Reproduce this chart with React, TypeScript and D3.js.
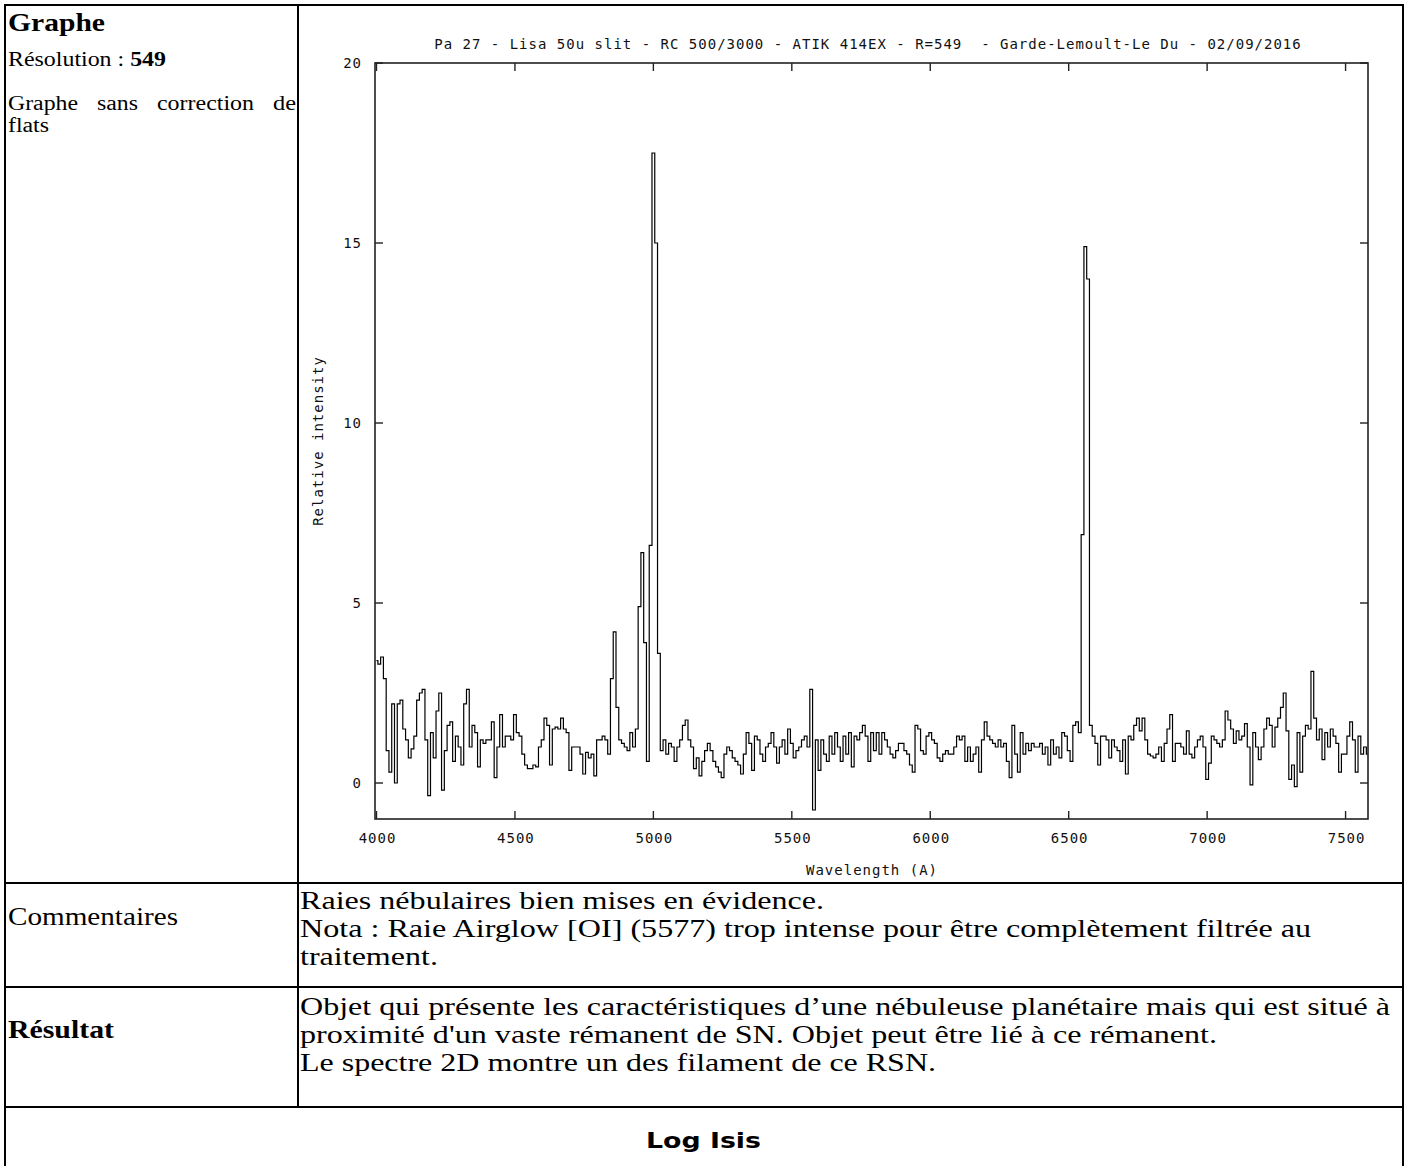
import React from 'react';
import * as d3 from 'd3';

// spectrum sampled every 10 A, 4000 -> 7580
const wavelengths: number[] = d3.range(4000, 7590, 10);
const intensity: number[] = [
  3.4, 3.3, 3.5, 2.9, 0.9, 0.3, 2.2, 0.0, 2.2, 2.3,
  1.5, 1.2, 0.7, 0.95, 1.3, 2.3, 2.5, 2.6, 1.2, -0.35,
  1.4, 0.7, 2.0, 2.5, -0.2, 0.9, 1.6, 1.7, 0.6, 1.3,
  1.0, 0.5, 2.2, 2.6, 1.0, 1.6, 1.4, 0.45, 1.2, 1.1,
  1.2, 1.2, 1.7, 0.15, 1.0, 1.9, 1.0, 1.3, 1.3, 1.2,
  1.9, 1.4, 1.3, 0.8, 0.5, 0.4, 0.4, 0.5, 0.45, 1.0,
  1.2, 1.8, 1.6, 0.5, 1.5, 1.55, 1.5, 1.8, 1.5, 1.4,
  0.35, 1.0, 1.0, 1.0, 0.8, 0.25, 0.85, 0.7, 0.8, 0.2,
  1.2, 1.2, 1.3, 1.2, 0.8, 2.9, 4.2, 2.1, 1.2, 1.1,
  1.0, 0.9, 1.4, 1.0, 1.5, 4.9, 6.4, 3.9, 0.6, 6.6,
  17.5, 15.0, 3.6, 0.9, 1.2, 0.8, 1.1, 1.0, 0.6, 1.0,
  1.2, 1.6, 1.75, 1.2, 1.0, 0.4, 0.7, 0.2, 0.6, 0.9,
  1.1, 0.9, 0.6, 0.45, 0.3, 0.15, 0.8, 1.0, 0.9, 0.7,
  0.6, 0.5, 0.25, 0.8, 1.4, 1.1, 0.35, 1.3, 1.2, 0.8,
  0.6, 1.0, 1.1, 1.4, 1.0, 0.55, 1.0, 1.2, 0.8, 1.5,
  1.1, 0.7, 0.9, 1.0, 1.2, 1.3, 1.0, 2.6, -0.75, 1.2,
  0.35, 1.2, 0.8, 0.6, 1.3, 0.8, 1.4, 1.0, 0.6, 1.3,
  0.8, 1.4, 0.45, 1.3, 1.2, 1.4, 1.6, 1.3, 0.6, 1.4,
  0.9, 1.4, 0.8, 1.4, 1.2, 1.0, 0.8, 0.7, 0.9, 1.1,
  1.1, 0.9, 0.8, 0.5, 0.3, 1.6, 1.5, 0.9, 0.8, 1.3,
  1.4, 1.2, 1.1, 0.7, 0.6, 0.8, 0.9, 0.8, 0.8, 1.0,
  1.3, 1.2, 1.3, 0.6, 1.0, 0.6, 0.8, 1.0, 0.3, 1.2,
  1.7, 1.3, 1.2, 1.1, 1.0, 1.2, 1.0, 1.1, 0.6, 0.15,
  1.6, 0.8, 0.3, 1.4, 0.8, 1.1, 0.9, 1.1, 1.0, 1.0,
  1.1, 0.8, 1.0, 0.5, 1.2, 0.8, 1.0, 0.7, 1.4, 1.3,
  0.9, 0.6, 1.6, 1.7, 1.4, 6.9, 14.9, 14.0, 1.6, 1.3,
  1.1, 0.5, 1.3, 1.3, 1.2, 0.7, 1.2, 1.0, 0.9, 0.6,
  1.2, 0.25, 1.3, 1.2, 1.6, 1.8, 1.45, 1.8, 1.2, 0.8,
  0.75, 0.7, 0.8, 1.0, 0.6, 1.1, 1.5, 1.9, 0.6, 1.1,
  1.1, 1.0, 0.8, 1.45, 0.8, 0.7, 1.0, 1.2, 1.3, 1.0,
  0.1, 0.55, 1.3, 1.2, 1.1, 1.0, 1.2, 2.0, 1.75, 1.5,
  1.1, 1.45, 1.2, 1.3, 1.65, 1.0, -0.05, 1.4, 1.0, 0.65,
  1.0, 1.5, 1.8, 1.6, 1.0, 1.55, 1.8, 2.1, 2.5, 1.45,
  0.1, 0.5, -0.1, 1.4, 0.3, 1.3, 1.6, 1.5, 3.1, 1.8,
  1.2, 1.5, 0.65, 1.4, 1.0, 1.5, 1.3, 1.1, 0.3, 0.8,
  0.8, 1.3, 1.7, 1.2, 0.3, 1.3, 0.8, 1.0, 0.8,
];

const xTickValues = [4000, 4500, 5000, 5500, 6000, 6500, 7000, 7500];
const yTickValues = [0, 5, 10, 15, 20];
const chartTitle = 'Pa 27 - Lisa 50u slit - RC 500/3000 - ATIK 414EX - R=549  - Garde-Lemoult-Le Du - 02/09/2016';
const xLabel = 'Wavelength (A)';
const yLabel = 'Relative intensity';

const commentLines = [
  'Raies nébulaires bien mises en évidence.',
  'Nota : Raie Airglow [OI] (5577) trop intense pour être complètement filtrée au',
  'traitement.',
];
const resultLines = [
  'Objet qui présente les caractéristiques d\u2019une nébuleuse planétaire mais qui est situé à',
  'proximité d\'un vaste rémanent de SN. Objet peut être lié à ce rémanent.',
  'Le spectre 2D montre un des filament de ce RSN.',
];

const SERIF = '"Liberation Serif", "Times New Roman", serif';
const MONO = '"DejaVu Sans Mono", monospace';

// plot frame
const frame = { left: 375, right: 1368, top: 63, bottom: 819 };

const x = d3.scaleLinear().domain([3994.6, 7581]).range([frame.left, frame.right]);
const y = d3.scaleLinear().domain([-1, 20]).range([frame.bottom, frame.top]);

const spectrumPath = d3.line<number>()
  .x((_, i) => x(wavelengths[i]))
  .y(d => y(d))
  .curve(d3.curveStep)(intensity) as string;

const monoText = { fontFamily: MONO, fontSize: 14, letterSpacing: 1, fill: '#111' } as const;

const Spectrum = () => {
  const tick = 8;
  return (
    <g>
      <text x={868} y={49} textAnchor="middle" style={{ ...monoText, whiteSpace: 'pre' }}>{chartTitle}</text>
      <path d={spectrumPath} fill="none" stroke="#000" strokeWidth={1.2} />
      <rect x={frame.left} y={frame.top} width={frame.right - frame.left} height={frame.bottom - frame.top}
        fill="none" stroke="#222" strokeWidth={1.6} />
      {xTickValues.map(v => (
        <g key={v}>
          <line x1={x(v)} x2={x(v)} y1={frame.bottom} y2={frame.bottom - tick} stroke="#222" strokeWidth={1.4} />
          <line x1={x(v)} x2={x(v)} y1={frame.top} y2={frame.top + tick} stroke="#222" strokeWidth={1.4} />
          <text x={x(v) + 1} y={843} textAnchor="middle" style={monoText}>{v}</text>
        </g>
      ))}
      {yTickValues.map(v => (
        <g key={v}>
          <line x1={frame.left} x2={frame.left + tick} y1={y(v)} y2={y(v)} stroke="#222" strokeWidth={1.4} />
          <line x1={frame.right} x2={frame.right - tick} y1={y(v)} y2={y(v)} stroke="#222" strokeWidth={1.4} />
          <text x={362} y={y(v) + 5} textAnchor="end" style={monoText}>{v}</text>
        </g>
      ))}
      <text x={872} y={875} textAnchor="middle" style={monoText}>{xLabel}</text>
      <text transform="translate(323,441) rotate(-90)" textAnchor="middle" style={monoText}>{yLabel}</text>
    </g>
  );
};

// serif text: width fixed to what the page shows (the page is wider than tall)
const Line = ({ x0, y0, w, size, bold, children }: any) => (
  <text x={x0} y={y0} fontFamily={SERIF} fontSize={size} fontWeight={bold ? 'bold' : 'normal'}
    textLength={w} lengthAdjust="spacingAndGlyphs" fill="#000">{children}</text>
);

export default function App() {
  const lineW = 2;
  const rows = [883, 987, 1107];
  const big = 26;
  const small = 20;
  return (
    <div style={{ position: 'absolute', left: 0, top: 0 }}>
      <svg width={1408} height={1166} style={{ display: 'block', background: '#fff' }}>
        {/* table grid */}
        <line x1={5} x2={5} y1={4} y2={1166} stroke="#000" strokeWidth={lineW} />
        <line x1={1403} x2={1403} y1={4} y2={1166} stroke="#000" strokeWidth={lineW} />
        <line x1={4} x2={1404} y1={5} y2={5} stroke="#000" strokeWidth={lineW} />
        <line x1={298} x2={298} y1={5} y2={rows[2]} stroke="#000" strokeWidth={lineW} />
        {rows.map(r => <line key={r} x1={4} x2={1404} y1={r} y2={r} stroke="#000" strokeWidth={lineW} />)}

        {/* left column, first row */}
        <Line x0={8} y0={31} w={97} size={25} bold>Graphe</Line>
        <text x={8} y={66} fontFamily={SERIF} fontSize={small} textLength={158} lengthAdjust="spacingAndGlyphs">
          Résolution : <tspan fontWeight="bold">549</tspan>
        </text>
        <Line x0={8} y0={110} w={70} size={small}>Graphe</Line>
        <Line x0={97} y0={110} w={41} size={small}>sans</Line>
        <Line x0={157} y0={110} w={97} size={small}>correction</Line>
        <Line x0={273} y0={110} w={23} size={small}>de</Line>
        <Line x0={8} y0={132} w={41} size={small}>flats</Line>

        <Spectrum />

        {/* comments row */}
        <Line x0={8} y0={925} w={170} size={big}>Commentaires</Line>
        <Line x0={300} y0={909} w={524} size={big}>{commentLines[0]}</Line>
        <Line x0={300} y0={937} w={1011} size={big}>{commentLines[1]}</Line>
        <Line x0={300} y0={965} w={138} size={big}>{commentLines[2]}</Line>

        {/* result row */}
        <Line x0={8} y0={1038} w={106} size={big} bold>Résultat</Line>
        <Line x0={300} y0={1015} w={1090} size={big}>{resultLines[0]}</Line>
        <Line x0={300} y0={1043} w={917} size={big}>{resultLines[1]}</Line>
        <Line x0={300} y0={1071} w={636} size={big}>{resultLines[2]}</Line>

        <text x={646} y={1148} fontFamily='"Comic Sans MS", "DejaVu Sans", sans-serif'
          fontSize={22} fontWeight="bold" textLength={115} lengthAdjust="spacingAndGlyphs">Log Isis</text>
      </svg>
    </div>
  );
}
